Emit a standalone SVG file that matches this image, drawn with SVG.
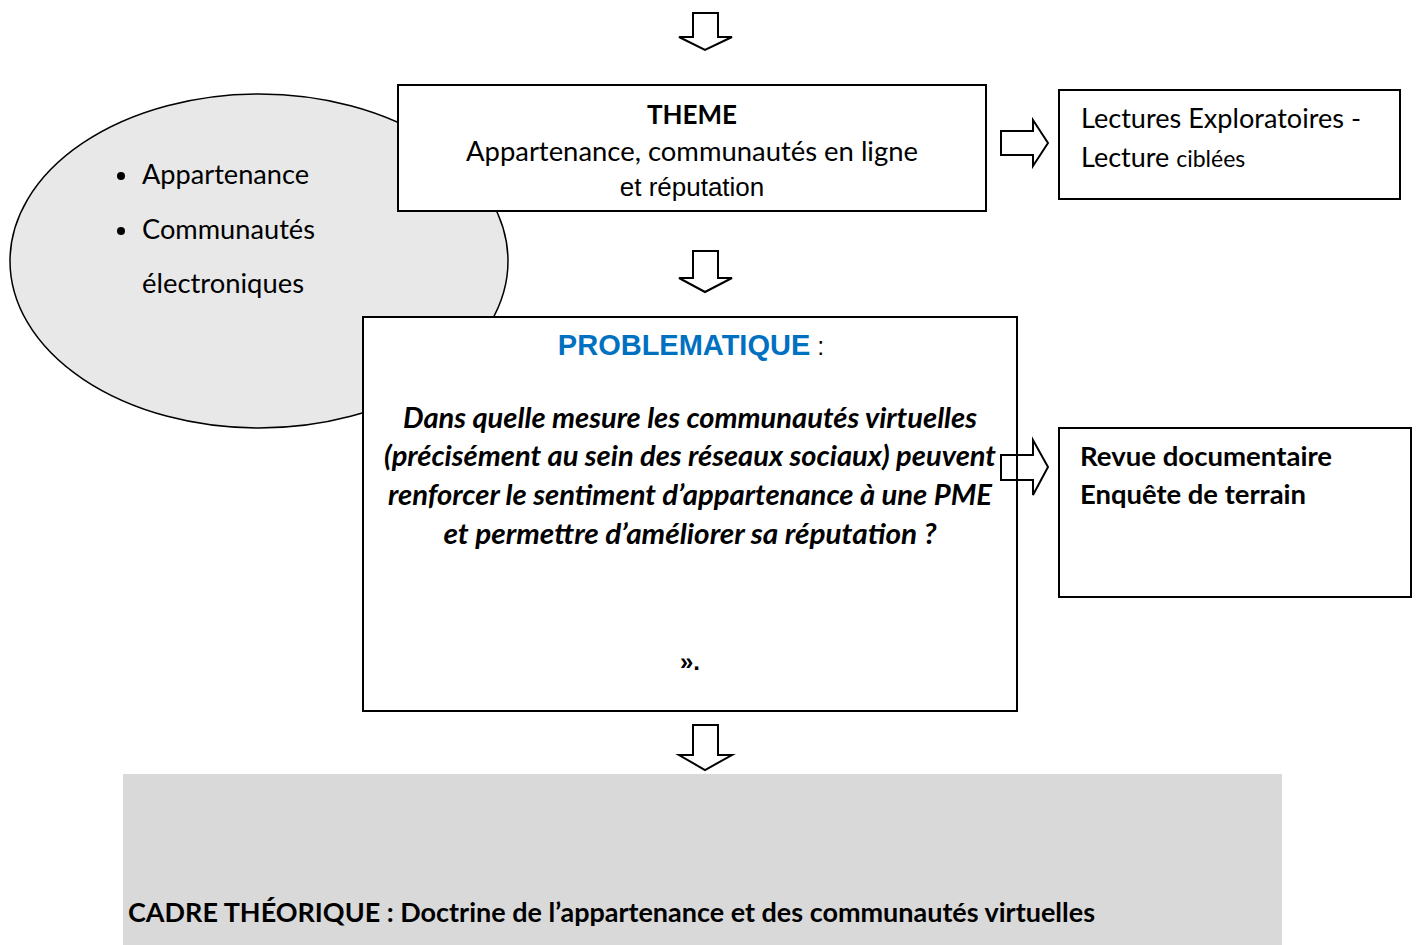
<svg xmlns="http://www.w3.org/2000/svg" width="1416" height="945" viewBox="0 0 1416 945">
<style>
.box{fill:#fff;stroke:#000;stroke-width:2}
.arr{fill:#fff;stroke:#000;stroke-width:2;stroke-linejoin:miter}
.c{font-family:Lato,"Open Sans","Noto Sans",sans-serif;fill:#000}
.a{font-family:"Liberation Sans",Arial,sans-serif;fill:#000}
.b{font-weight:bold}
.i{font-style:italic}
.mid{text-anchor:middle}
.blue{fill:#0070c0}
</style>
<rect width="1416" height="945" fill="#fff"/>
<g id="ellipse">
<ellipse cx="259" cy="261" rx="249" ry="167" fill="#e8e8e8" stroke="#000" stroke-width="1.5"/>
<circle cx="121" cy="176" r="4" fill="#000"/>
<circle cx="121" cy="231" r="4" fill="#000"/>
<text class="c" x="142" y="184" font-size="27" textLength="167" lengthAdjust="spacingAndGlyphs">Appartenance</text>
<text class="c" x="142" y="239" font-size="27" textLength="173" lengthAdjust="spacingAndGlyphs">Communautés</text>
<text class="c" x="142" y="293" font-size="27" textLength="162" lengthAdjust="spacingAndGlyphs">électroniques</text>
</g>
<g id="theme">
<rect class="box" x="398" y="85" width="588" height="126"/>
<text class="c b mid" x="692" y="124" font-size="26">THEME</text>
<text class="c mid" x="692" y="161" font-size="27" textLength="452" lengthAdjust="spacingAndGlyphs">Appartenance, communautés en ligne</text>
<text class="a mid" x="692" y="196" font-size="26">et réputation</text>
</g>
<g id="lectures">
<rect class="box" x="1059" y="90" width="341" height="109"/>
<text class="c" x="1081" y="128" font-size="27" textLength="280" lengthAdjust="spacingAndGlyphs">Lectures Exploratoires -</text>
<text class="c" x="1081" y="167" font-size="27">Lecture <tspan font-size="23">ciblées</tspan></text>
</g>
<g id="problematique">
<rect class="box" x="363" y="317" width="654" height="394"/>
<text class="mid" x="691" y="355"><tspan class="a b blue" font-size="29">PROBLEMATIQUE</tspan><tspan class="a" font-size="25"> :</tspan></text>
<text class="c b i mid" x="690" y="428" font-size="28" textLength="574" lengthAdjust="spacingAndGlyphs">Dans quelle mesure les communautés virtuelles</text>
<text class="c b i mid" x="690" y="466" font-size="28" textLength="612" lengthAdjust="spacingAndGlyphs">(précisément au sein des réseaux sociaux) peuvent</text>
<text class="c b i mid" x="690" y="505" font-size="28" textLength="604" lengthAdjust="spacingAndGlyphs">renforcer le sentiment d’appartenance à une PME</text>
<text class="c b i mid" x="690" y="544" font-size="28" textLength="493" lengthAdjust="spacingAndGlyphs">et permettre d’améliorer sa réputation ?</text>
<text class="a b mid" x="690" y="670" font-size="24">».</text>
</g>
<g id="revue">
<rect class="box" x="1059" y="428" width="352" height="169"/>
<text class="c b" x="1080" y="466" font-size="27" textLength="252" lengthAdjust="spacingAndGlyphs">Revue documentaire</text>
<text class="c b" x="1080" y="504" font-size="27" textLength="226" lengthAdjust="spacingAndGlyphs">Enquête de terrain</text>
</g>
<g id="cadre">
<rect x="123" y="774" width="1159" height="171" fill="#d9d9d9"/>
<text class="c b" x="128" y="922" font-size="27" textLength="967" lengthAdjust="spacingAndGlyphs">CADRE THÉORIQUE : Doctrine de l’appartenance et des communautés virtuelles</text>
</g>
<g id="connectors">
<path class="arr" d="M693,13 H718 V37 H732 L705,50 L679,37 H693 Z"/>
<path class="arr" d="M693,251 H718 V278 H732 L705,292 L679,278 H693 Z"/>
<path class="arr" d="M693,725 H718 V755 H732 L705,770 L679,755 H693 Z"/>
<path class="arr" d="M1001,131 H1033 V120 L1048,143 L1033,166 V155 H1001 Z"/>
<path class="arr" style="fill:none" d="M1001,455 H1033 V440 L1048,467 L1033,495 V480 H1001 Z"/>
</g>
</svg>
